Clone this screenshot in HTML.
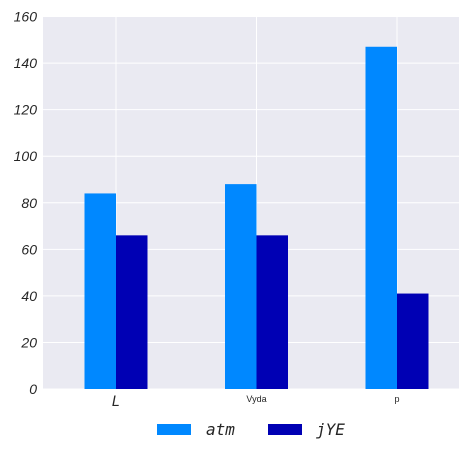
<!DOCTYPE html>
<html><head><meta charset="utf-8"><style>
body{margin:0;background:#fff;width:469px;height:469px;overflow:hidden}
text{fill:#262626}
</style></head><body>
<svg id="chart" width="469" height="469" xmlns="http://www.w3.org/2000/svg">
<rect x="43" y="16" width="416" height="373" fill="#eaeaf2"/>
<g id="grid"></g><g id="bars"></g><g id="yticks"></g><g id="xticks"></g>
<g>
<rect x="157" y="424" width="34" height="11" fill="#0088ff"/>
<text x="206" y="435" font-family="DejaVu Sans Mono, monospace" font-style="italic" font-size="16">atm</text>
<rect x="268" y="424" width="34" height="11" fill="#0000b4"/>
<text x="316" y="435" font-family="DejaVu Sans Mono, monospace" font-style="italic" font-size="16">jYE</text>
</g>
</svg>
<script>
const categories=["L","Vyda","p"];
const catFontSizes=[14,9,9];
const atm=[84,88,147];
const jye=[66,66,41];
const yTicks=[0,20,40,60,80,100,120,140,160];
const NS="http://www.w3.org/2000/svg";
const x0=43,x1=459,y0=389,y1=16.5,ymax=160;
const Y=v=>y0-(v/ymax)*(y0-y1);
const X=i=>116+140.5*i;
const bw=31.5;
function mk(tag,attrs,parent){const e=document.createElementNS(NS,tag);for(const k in attrs)e.setAttribute(k,attrs[k]);document.getElementById(parent).appendChild(e);return e;}
yTicks.forEach(t=>{
  const l=mk('line',{x1:x0,x2:x1,y1:Y(t),y2:Y(t),stroke:'#fff','stroke-width':1},'grid');
  
  
  const tx=mk('text',{x:37,y:Y(t)+5,'text-anchor':'end','font-family':'Liberation Sans, sans-serif','font-style':'italic','font-size':14},'yticks');
  tx.textContent=t;
  
  
});
categories.forEach((c,i)=>{
  const l=mk('line',{x1:X(i),x2:X(i),y1:y1,y2:y0,stroke:'#fff','stroke-width':1},'grid');
  
  
  const a=mk('rect',{x:X(i)-bw,y:Y(atm[i]),width:bw,height:y0-Y(atm[i]),fill:'#0088ff'},'bars');
  
  
  const b=mk('rect',{x:X(i),y:Y(jye[i]),width:bw,height:y0-Y(jye[i]),fill:'#0000b4'},'bars');
  
  
  const big=catFontSizes[i]>10;
  const t=mk('text',{x:X(i),y:big?406:402,'text-anchor':'middle','font-family':big?'DejaVu Sans Mono, monospace':'Liberation Sans, sans-serif','font-style':big?'italic':'normal','font-size':catFontSizes[i]},'xticks');
  t.textContent=c;
  
  
});
</script>
</body></html>
